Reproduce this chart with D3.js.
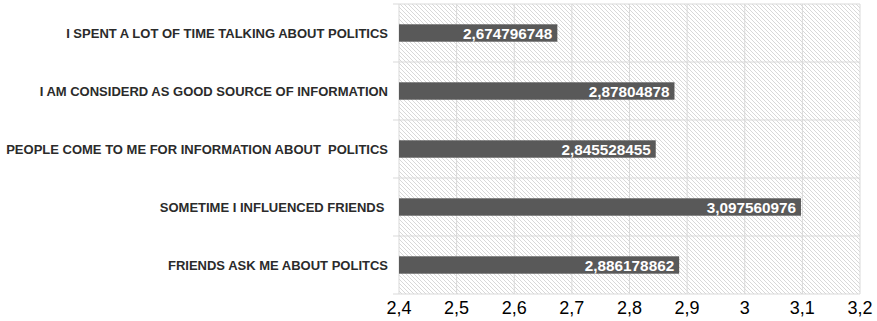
<!DOCTYPE html>
<html><head><meta charset="utf-8">
<script src="https://cdn.jsdelivr.net/npm/d3@7"></script>
<style>body{margin:0;background:#fff;} svg{display:block;} text{font-family:"Liberation Sans",Arial,sans-serif;}</style>
</head><body><svg id="c" width="877" height="321"></svg>
<script>
const categories = ["I SPENT A LOT OF TIME TALKING ABOUT POLITICS","I AM CONSIDERD AS GOOD SOURCE OF INFORMATION","PEOPLE COME TO ME FOR INFORMATION ABOUT  POLITICS","SOMETIME I INFLUENCED FRIENDS ","FRIENDS ASK ME ABOUT POLITCS"];
const values = [2.674796748, 2.87804878, 2.845528455, 3.097560976, 2.886178862];
const valueLabels = ["2,674796748","2,87804878","2,845528455","3,097560976","2,886178862"];
const ticks = [2.4,2.5,2.6,2.7,2.8,2.9,3.0,3.1,3.2];
const tickLabels = ["2,4","2,5","2,6","2,7","2,8","2,9","3","3,1","3,2"];

const svg = d3.select("#c");
const L=399, R=860, T=4, B=294;
const x = d3.scaleLinear().domain([2.4,3.2]).range([L,R]);
const y = d3.scaleBand().domain(categories).range([T,B]).paddingInner(0.7).paddingOuter(0.35);

const defs = svg.append("defs");
const pat = defs.append("pattern").attr("id","hatch").attr("patternUnits","userSpaceOnUse").attr("width",4).attr("height",4);
pat.append("rect").attr("width",4).attr("height",4).attr("fill","#ffffff");
pat.append("path").attr("d","M-1,-1 L5,5 M-1,3 L1,5 M3,-1 L5,1").attr("stroke","#d4d4d4").attr("stroke-width",0.9);

svg.append("rect").attr("x",L).attr("y",T).attr("width",R-L).attr("height",B-T).attr("fill","url(#hatch)");

svg.append("g").selectAll("line").data(ticks).join("line")
  .attr("x1",d=>x(d)).attr("x2",d=>x(d)).attr("y1",T).attr("y2",B)
  .attr("stroke","#d9d9d9").attr("stroke-width",1);
const bounds = d3.range(categories.length+1).map(i=>T+i*(B-T)/categories.length);
svg.append("g").selectAll("line").data(bounds).join("line")
  .attr("x1",L-6).attr("x2",R).attr("y1",d=>d).attr("y2",d=>d)
  .attr("stroke","#d9d9d9").attr("stroke-width",1);

svg.append("g").selectAll("rect").data(values).join("rect")
  .attr("x",x(2.4)).attr("y",(d,i)=>y(categories[i])).attr("width",d=>x(d)-x(2.4)).attr("height",y.bandwidth())
  .attr("fill","#595959");

svg.append("g").selectAll("text").data(values).join("text")
  .attr("x",d=>x(d)-5).attr("y",(d,i)=>y(categories[i])+y.bandwidth()/2)
  .attr("dy","0.36em").attr("text-anchor","end").attr("fill","#fff")
  .attr("font-weight","bold").attr("font-size","15.3px").text((d,i)=>valueLabels[i]);

svg.append("g").selectAll("text").data(categories).join("text")
  .attr("x",388).attr("y",d=>y(d)+y.bandwidth()/2).attr("dy","0.36em")
  .attr("text-anchor","end").attr("font-weight","bold").attr("font-size","13px")
  .attr("fill","#2b2b2b").style("white-space","pre").text(d=>d);

svg.append("g").selectAll("text").data(ticks).join("text")
  .attr("x",d=>x(d)).attr("y",308).attr("dy","0.36em").attr("text-anchor","middle")
  .attr("font-size","18px").attr("fill","#000").text((d,i)=>tickLabels[i]);
</script></body></html>
